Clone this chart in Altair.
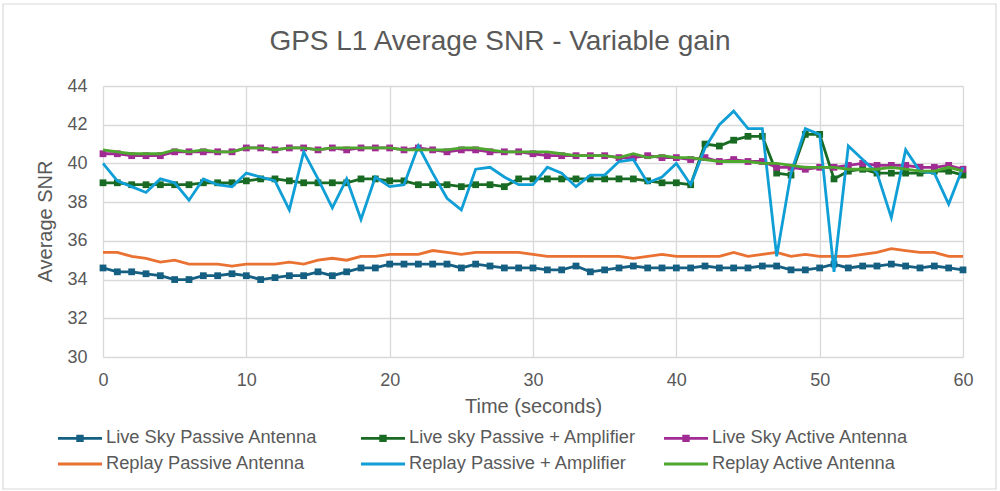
import altair as alt
import pandas as pd

# Time axis (seconds)
seconds = list(range(61))

live_passive = [34.6, 34.4, 34.4, 34.3, 34.2, 34.0, 34.0, 34.2, 34.2, 34.3, 34.2,
                34.0, 34.1, 34.2, 34.2, 34.4, 34.2, 34.4, 34.6, 34.6, 34.8,
                34.8, 34.8, 34.8, 34.8, 34.6, 34.8, 34.7, 34.6, 34.6, 34.6,
                34.5, 34.5, 34.7, 34.4, 34.5, 34.6, 34.7, 34.6, 34.6, 34.6,
                34.6, 34.7, 34.6, 34.6, 34.6, 34.7, 34.7, 34.5, 34.5, 34.6,
                34.8, 34.6, 34.7, 34.7, 34.8, 34.7, 34.6, 34.7, 34.6, 34.5]

live_passive_amp = [39.0, 39.0, 38.9, 38.9, 38.9, 38.9, 38.9, 39.0, 39.0, 39.0, 39.1,
                    39.2, 39.2, 39.1, 39.0, 39.0, 39.0, 39.0, 39.2, 39.2, 39.1,
                    39.1, 38.9, 38.9, 38.9, 38.8, 38.9, 38.9, 38.8, 39.2, 39.2,
                    39.2, 39.2, 39.2, 39.2, 39.2, 39.2, 39.2, 39.1, 39.0, 39.0,
                    38.9, 41.0, 40.9, 41.2, 41.4, 41.4, 39.5, 39.4, 41.5, 41.5,
                    39.2, 39.6, 39.7, 39.5, 39.5, 39.5, 39.5, 39.6, 39.6, 39.4]

live_active = [40.5, 40.5, 40.4, 40.4, 40.4, 40.6, 40.6, 40.6, 40.6, 40.6, 40.8,
               40.8, 40.7, 40.8, 40.8, 40.7, 40.8, 40.7, 40.8, 40.8, 40.8,
               40.7, 40.8, 40.7, 40.6, 40.7, 40.7, 40.6, 40.6, 40.6, 40.5,
               40.4, 40.4, 40.4, 40.4, 40.4, 40.3, 40.3, 40.4, 40.3, 40.3,
               40.2, 40.3, 40.1, 40.2, 40.1, 40.1, 39.8, 39.8, 39.7, 39.8,
               39.8, 39.9, 40.0, 39.9, 39.9, 39.9, 39.8, 39.8, 39.9, 39.7]

replay_passive = [35.4, 35.4, 35.2, 35.1, 34.9, 35.0, 34.8, 34.8, 34.8, 34.7, 34.8,
                  34.8, 34.8, 34.9, 34.8, 35.0, 35.1, 35.0, 35.2, 35.2, 35.3,
                  35.3, 35.3, 35.5, 35.4, 35.3, 35.4, 35.4, 35.4, 35.4, 35.3,
                  35.2, 35.2, 35.2, 35.2, 35.2, 35.2, 35.1, 35.2, 35.3, 35.2,
                  35.2, 35.2, 35.2, 35.4, 35.2, 35.3, 35.4, 35.2, 35.3, 35.2,
                  35.2, 35.2, 35.3, 35.4, 35.6, 35.5, 35.4, 35.4, 35.2, 35.2]

replay_passive_amp = [40.0, 39.1, 38.8, 38.5, 39.2, 39.0, 38.1, 39.2, 38.9, 38.8, 39.5,
                      39.3, 39.1, 37.6, 40.6, 39.2, 37.7, 39.2, 37.1, 39.3, 38.8,
                      38.9, 40.9, 39.5, 38.2, 37.6, 39.7, 39.8, 39.3, 38.9, 38.9,
                      39.8, 39.5, 38.8, 39.4, 39.4, 40.1, 40.2, 39.0, 39.3, 40.0,
                      38.9, 40.8, 42.0, 42.7, 41.8, 41.8, 35.2, 39.5, 41.8, 41.5,
                      34.4, 40.9, 40.2, 39.5, 37.2, 40.7, 39.6, 39.5, 37.9, 39.8]

replay_active = [40.7, 40.6, 40.5, 40.5, 40.5, 40.7, 40.6, 40.7, 40.6, 40.6, 40.8,
                 40.8, 40.7, 40.8, 40.8, 40.7, 40.8, 40.8, 40.8, 40.8, 40.8,
                 40.7, 40.7, 40.7, 40.7, 40.8, 40.8, 40.7, 40.6, 40.6, 40.6,
                 40.6, 40.5, 40.4, 40.4, 40.4, 40.3, 40.5, 40.3, 40.4, 40.3,
                 40.3, 40.2, 40.1, 40.1, 40.1, 40.0, 40.0, 39.9, 39.8, 39.8,
                 39.8, 39.7, 39.7, 39.7, 39.8, 39.7, 39.6, 39.6, 39.8, 39.6]

series_names = ["Live Sky Passive Antenna", "Live sky Passive + Amplifier",
                "Live Sky Active Antenna", "Replay Passive Antenna",
                "Replay Passive + Amplifier", "Replay Active Antenna"]
series_values = [live_passive, live_passive_amp, live_active,
                 replay_passive, replay_passive_amp, replay_active]
series_colors = ["#156082", "#196B24", "#A02B93", "#E97132", "#0F9ED5", "#4EA72E"]
with_markers = [True, True, True, False, False, False]

y_ticks = [30, 32, 34, 36, 38, 40, 42, 44]
x_ticks = [0, 10, 20, 30, 40, 50, 60]

rows = []
for name, vals in zip(series_names, series_values):
    for t, v in zip(seconds, vals):
        rows.append({"t": t, "snr": v, "series": name})
df = pd.DataFrame(rows)

FONT = "Liberation Sans"
GREY = "#595959"
GRID = "#d9d9d9"

# legend glyphs (unit = 10 px at symbolSize 400): a 44 px stroke,
# plus a square marker in its middle for the marker series
line_glyph = "M-1,-0.14L3.4,-0.14L3.4,0.14L-1,0.14Z"
marker_glyph = line_glyph + " M0.83,-0.37L1.57,-0.37L1.57,0.37L0.83,0.37Z"
glyphs = [marker_glyph if m else line_glyph for m in with_markers]

color_scale = alt.Scale(domain=series_names, range=series_colors)
shape_scale = alt.Scale(domain=series_names, range=glyphs)

x_enc = alt.X("t:Q", title="Time (seconds)",
              scale=alt.Scale(domain=[0, 60], nice=False),
              axis=alt.Axis(values=x_ticks, labelPadding=14, titleY=49,
                            titleX=430, titleBaseline="middle", labelFlush=False))
y_enc = alt.Y("snr:Q", title="Average SNR",
              scale=alt.Scale(domain=[30, 44], nice=False, zero=False),
              axis=alt.Axis(values=y_ticks, labelPadding=16, titleX=-58,
                            titleY=135, titleBaseline="middle", labelFlush=False))

base = alt.Chart(df)
layers = []
for name, color, marked in zip(series_names, series_colors, with_markers):
    sub = base.transform_filter(alt.datum.series == name)
    layers.append(
        sub.mark_line(strokeWidth=2.8, color=color).encode(x=x_enc, y=y_enc)
    )
    if marked:
        layers.append(
            sub.mark_point(shape="square", filled=True, size=46, opacity=1,
                           color=color).encode(x=x_enc, y=y_enc)
        )

legend_def = alt.Legend(
    title=None, orient="none", legendX=-45, legendY=342, direction="horizontal",
    columns=3, symbolSize=400, symbolStrokeWidth=0, labelFont=FONT,
    labelFontSize=18.3, labelColor=GREY, labelOffset=28, gridAlign="all",
    columnPadding=27, rowPadding=7, symbolOpacity=1, labelLimit=400,
)
legend_layer = alt.Chart(df).mark_point(filled=True, opacity=0).encode(
    x=x_enc, y=y_enc,
    color=alt.Color("series:N", scale=color_scale, legend=legend_def),
    shape=alt.Shape("series:N", scale=shape_scale, legend=legend_def),
)

frame = alt.Chart(pd.DataFrame({"k": [0]})).mark_rect(
    fill=None, stroke=GRID, strokeWidth=1.2).encode(
    x=alt.value(-100), x2=alt.value(893), y=alt.value(-82), y2=alt.value(403))

chart = alt.layer(legend_layer, *layers, frame).properties(
    width=860, height=271,
    title=alt.TitleParams("GPS L1 Average SNR - Variable gain", anchor="middle",
                          frame="group", dx=-33, offset=-75, baseline="alphabetic",
                          font=FONT, fontSize=28, fontWeight="normal", color=GREY),
    autosize=alt.AutoSizeParams(type="none"),
    padding={"left": 103, "top": 86, "right": 37, "bottom": 134},
).configure(background="white").configure_view(stroke=None, clip=False).configure_axis(
    grid=True, gridColor=GRID, gridWidth=1.3, domain=False, ticks=False,
    labelFont=FONT, labelFontSize=18, labelColor=GREY,
    titleFont=FONT, titleFontSize=20, titleColor=GREY, titleFontWeight="normal",
).configure_legend(symbolOpacity=1)

chart.save("out.html", embed_options={"renderer": "svg", "actions": False})
